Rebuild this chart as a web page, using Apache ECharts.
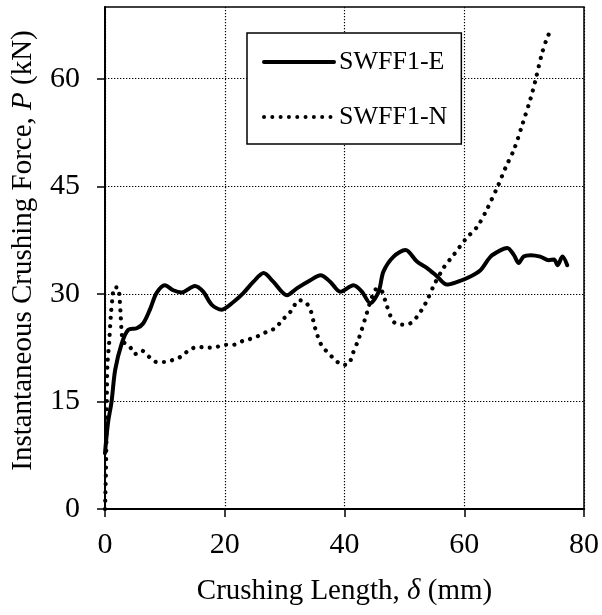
<!DOCTYPE html>
<html>
<head>
<meta charset="utf-8">
<script src="https://cdn.jsdelivr.net/npm/echarts@6/dist/echarts.min.js"></script>
<style>
html,body{margin:0;padding:0;background:#fff;}
#chart{width:602px;height:615px;}
</style>
</head>
<body>
<div id="chart"></div>
<script>
// Series names
var seriesNames = ['SWFF1-E', 'SWFF1-N'];

// SWFF1-E (solid): crushing length (mm) and force (kN)
var eLength = [0, 0.5, 1.1, 1.7, 2.8, 3.9, 5.3, 6.4, 7.5, 8.6, 10, 11.4, 12.8, 15, 16.4, 17.8, 19.5, 21.5, 23.1, 24.8, 26.5, 28.1, 30.4, 32.1, 34.3, 36, 37.6, 39.3, 41.5, 42.9, 44.3, 45.7, 46.5, 48.2, 50.2, 52.1, 53.8, 55.5, 57.1, 58.6, 60.5, 62.7, 64.4, 66.1, 67.2, 68.3, 69.1, 69.9, 71.1, 72.7, 74.1, 75, 75.6, 76.4, 77.2];
var eForce  = [7.8, 12, 15, 19.4, 23.1, 25, 25.2, 25.9, 27.8, 30.1, 31.2, 30.5, 30.2, 31.1, 30.3, 28.5, 27.8, 28.9, 30.1, 31.7, 32.9, 31.7, 29.8, 30.8, 31.9, 32.6, 31.7, 30.3, 31.2, 30.3, 28.7, 30.3, 33.1, 35.2, 36.1, 34.5, 33.6, 32.4, 31.3, 31.6, 32.2, 33.3, 35.2, 36.1, 36.4, 35.4, 34.3, 35.2, 35.4, 35.2, 34.7, 34.8, 34, 35.2, 34];

// SWFF1-N (dotted)
var nLength = [0, 0.15, 0.25, 0.3, 0.4, 0.7, 1, 1.3, 1.5, 2.2, 2.4, 2.6, 2.8, 3.1, 4.1, 5, 6.1, 7.4, 8.6, 10, 11.4, 12.8, 14.1, 15.6, 17, 18.6, 20.1, 21.5, 22.9, 24.2, 25.8, 27, 28.6, 29.5, 30.7, 31.5, 32.3, 33.4, 34.3, 35.1, 36.1, 37.1, 38.2, 39.3, 40.1, 40.8, 41.3, 42.4, 43.8, 44.6, 45.5, 46.3, 47, 48.2, 49.6, 51, 52.1, 53, 53.8, 55, 56.6, 58.2, 60.2, 62.2, 63.8, 65.7, 66.9, 68.3, 69.7, 71.1, 71.9, 73, 73.9, 74.7];
var nForce  = [0, 5, 10, 15, 20, 23.3, 27.3, 29.8, 30.9, 30.9, 29.8, 27.3, 24.5, 23.3, 22.7, 21.6, 22.1, 21.2, 20.5, 20.5, 20.8, 21.3, 22.2, 22.6, 22.5, 22.6, 22.9, 22.9, 23.4, 23.7, 24.2, 24.7, 25.3, 26.3, 27.2, 28.2, 29.1, 28.9, 27.8, 25.2, 22.9, 21.9, 21, 20.2, 20.1, 20.3, 21.5, 23.8, 27.5, 29.6, 30.8, 30.3, 28.5, 26.1, 25.7, 25.9, 26.8, 27.9, 29.1, 31.3, 33.7, 35.4, 37.6, 39.4, 41.8, 45.2, 47.6, 50.1, 53.6, 57.3, 59.8, 63.6, 65.8, 67.2];

// Axis ticks
var xTicks = [0, 20, 40, 60, 80];
var yTicks = [0, 15, 30, 45, 60];

function pairs(xs, ys) {
  var out = [];
  for (var i = 0; i < xs.length; i++) out.push([xs[i], ys[i]]);
  return out;
}

var FONT = '"Liberation Serif", "Times New Roman", serif';
var chart = echarts.init(document.getElementById('chart'), null, {renderer: 'canvas'});

chart.setOption({
  animation: false,
  backgroundColor: '#fff',
  grid: {
    left: 105, top: 7, right: 18, bottom: 106,
    show: true, borderColor: '#000', borderWidth: 1.5,
    containLabel: false,
    outerBoundsMode: 'none'
  },
  legend: {
    left: 247, top: 33,
    orient: 'vertical',
    itemWidth: 70, itemHeight: 14, itemGap: 29,
    padding: [16, 14, 14, 15],
    backgroundColor: '#fff',
    borderColor: '#000', borderWidth: 1.5,
    itemStyle: {opacity: 0},
    lineStyle: {width: 4},
    textStyle: {fontFamily: FONT, fontSize: 26, color: '#000'},
    data: seriesNames
  },
  xAxis: {
    type: 'value', min: xTicks[0], max: xTicks[xTicks.length - 1], interval: 20,
    name: 'Crushing Length, {i|δ} (mm)',
    nameLocation: 'middle', nameGap: 68,
    nameTextStyle: {fontFamily: FONT, fontSize: 29, color: '#000',
      rich: {i: {fontFamily: FONT, fontSize: 29, fontStyle: 'italic', color: '#000'}}},
    axisLine: {show: true, onZero: false, lineStyle: {color: '#000', width: 2}},
    axisTick: {show: true, inside: false, length: 8, lineStyle: {color: '#000', width: 1.5}},
    axisLabel: {fontFamily: FONT, fontSize: 30, color: '#000', margin: 21},
    splitLine: {show: true, lineStyle: {color: '#000', width: 1.2, type: [1.3, 1.7]}}
  },
  yAxis: {
    type: 'value', min: 0, max: 70, interval: 15,
    name: 'Instantaneous Crushing Force, {i|P} (kN)',
    nameLocation: 'middle', nameGap: 67, nameRotate: 90,
    nameTextStyle: {fontFamily: FONT, fontSize: 29, color: '#000', padding: [0, 0, 0, 15],
      rich: {i: {fontFamily: FONT, fontSize: 29, fontStyle: 'italic', color: '#000'}}},
    axisLine: {show: true, onZero: false, lineStyle: {color: '#000', width: 2}},
    axisTick: {show: true, inside: false, length: 8, lineStyle: {color: '#000', width: 1.5}, customValues: yTicks},
    axisLabel: {fontFamily: FONT, fontSize: 30, color: '#000', margin: 25, customValues: yTicks},
    splitLine: {show: true, lineStyle: {color: '#000', width: 1.2, type: [1.3, 1.7]}}
  },
  series: [
    {
      name: seriesNames[0], type: 'line', data: pairs(eLength, eForce),
      symbol: 'none', smooth: 0.3, z: 3,
      lineStyle: {color: '#000', width: 4, type: 'solid', cap: 'round', join: 'round'},
      itemStyle: {color: '#000'}
    },
    {
      name: seriesNames[1], type: 'line', data: pairs(nLength, nForce),
      symbol: 'none', smooth: 0.3, z: 2,
      lineStyle: {color: '#000', width: 4.2, type: [0.01, 8.3], cap: 'round', join: 'round'},
      itemStyle: {color: '#000'}
    }
  ]
});
</script>
</body>
</html>
